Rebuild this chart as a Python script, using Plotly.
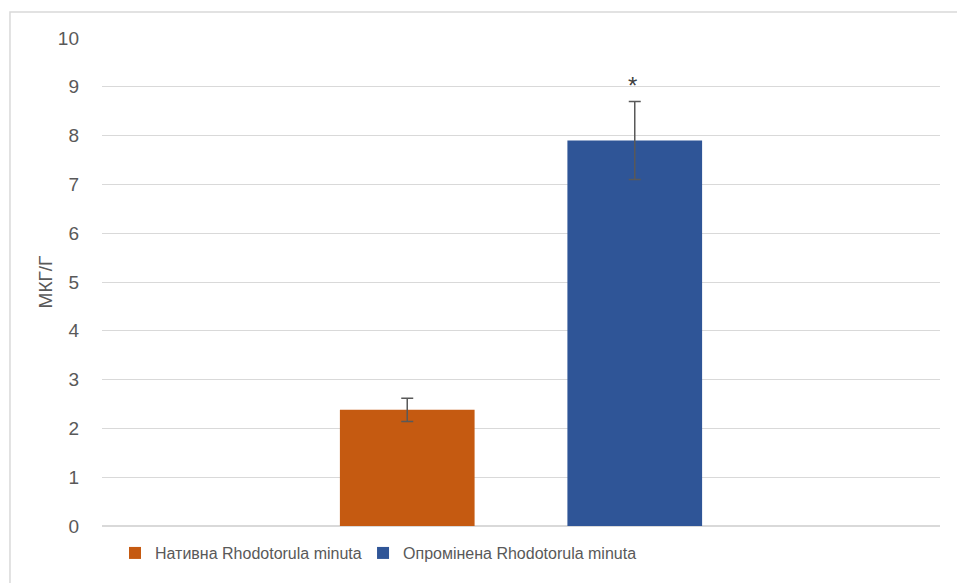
import plotly.graph_objects as go

category = ["Rhodotorula minuta"]
series_names = ["Нативна Rhodotorula minuta", "Опромінена Rhodotorula minuta"]
series_values = [2.38, 7.9]
series_errors = [0.24, 0.8]
series_colors = ["#C55A11", "#2F5597"]
significance = ["", "*"]
y_ticks = [0, 1, 2, 3, 4, 5, 6, 7, 8, 9, 10]
y_title = "МКГ/Г"

FONT = "Liberation Sans, Arial"
GREY = "#595959"

legend_ids = ["legend", "legend2"]
legend_x = [0.0155, 0.3115]

fig = go.Figure()
for name, val, err, col, lg in zip(series_names, series_values, series_errors,
                                   series_colors, legend_ids):
    fig.add_trace(go.Bar(
        x=category, y=[val], name=name, legend=lg,
        marker=dict(color=col, line=dict(width=0)),
        error_y=dict(type="data", array=[err], visible=True,
                     color=GREY, thickness=1.5, width=6),
    ))

for i, (val, err, s) in enumerate(zip(series_values, series_errors, significance)):
    if s:
        fig.add_annotation(
            x=category[0], y=val + err, text=s, showarrow=False,
            xref="x", yref="y", yanchor="bottom", yshift=0,
            xshift=(i - 0.5) * 228 - 3,
            font=dict(family=FONT, size=24, color="#404040"),
        )

fig.add_shape(type="rect", xref="paper", yref="paper",
              x0=-0.1098, x1=1.04, y0=-0.14, y1=1.0533,
              line=dict(color="#d9d9d9", width=1.5), fillcolor="rgba(0,0,0,0)",
              layer="below")

legend_style = dict(orientation="h", xanchor="left",
                    y=-0.0554, yanchor="middle",
                    font=dict(family=FONT, size=16, color=GREY),
                    itemwidth=30, bgcolor="rgba(0,0,0,0)")

fig.update_layout(
    width=957, height=575,
    margin=dict(l=94, r=25, t=30, b=57),
    paper_bgcolor="white", plot_bgcolor="white",
    barmode="group", bargap=0.457, bargroupgap=0.408,
    font=dict(family=FONT, size=19, color=GREY),
    showlegend=True,
    legend=dict(x=legend_x[0], **legend_style),
    legend2=dict(x=legend_x[1], **legend_style),
    xaxis=dict(showticklabels=False, showgrid=False, zeroline=False,
               showline=False, ticks=""),
    yaxis=dict(range=[0, 10], tickvals=y_ticks, showgrid=True,
               gridcolor="#d9d9d9", gridwidth=1, zeroline=True,
               zerolinecolor="#d9d9d9", zerolinewidth=1.5, showline=False,
               ticks="", ticklabelstandoff=22,
               tickfont=dict(family=FONT, size=19, color=GREY),
               title=dict(text=y_title, standoff=0,
                          font=dict(family=FONT, size=19, color=GREY))),
)

fig.write_html("out.html")
